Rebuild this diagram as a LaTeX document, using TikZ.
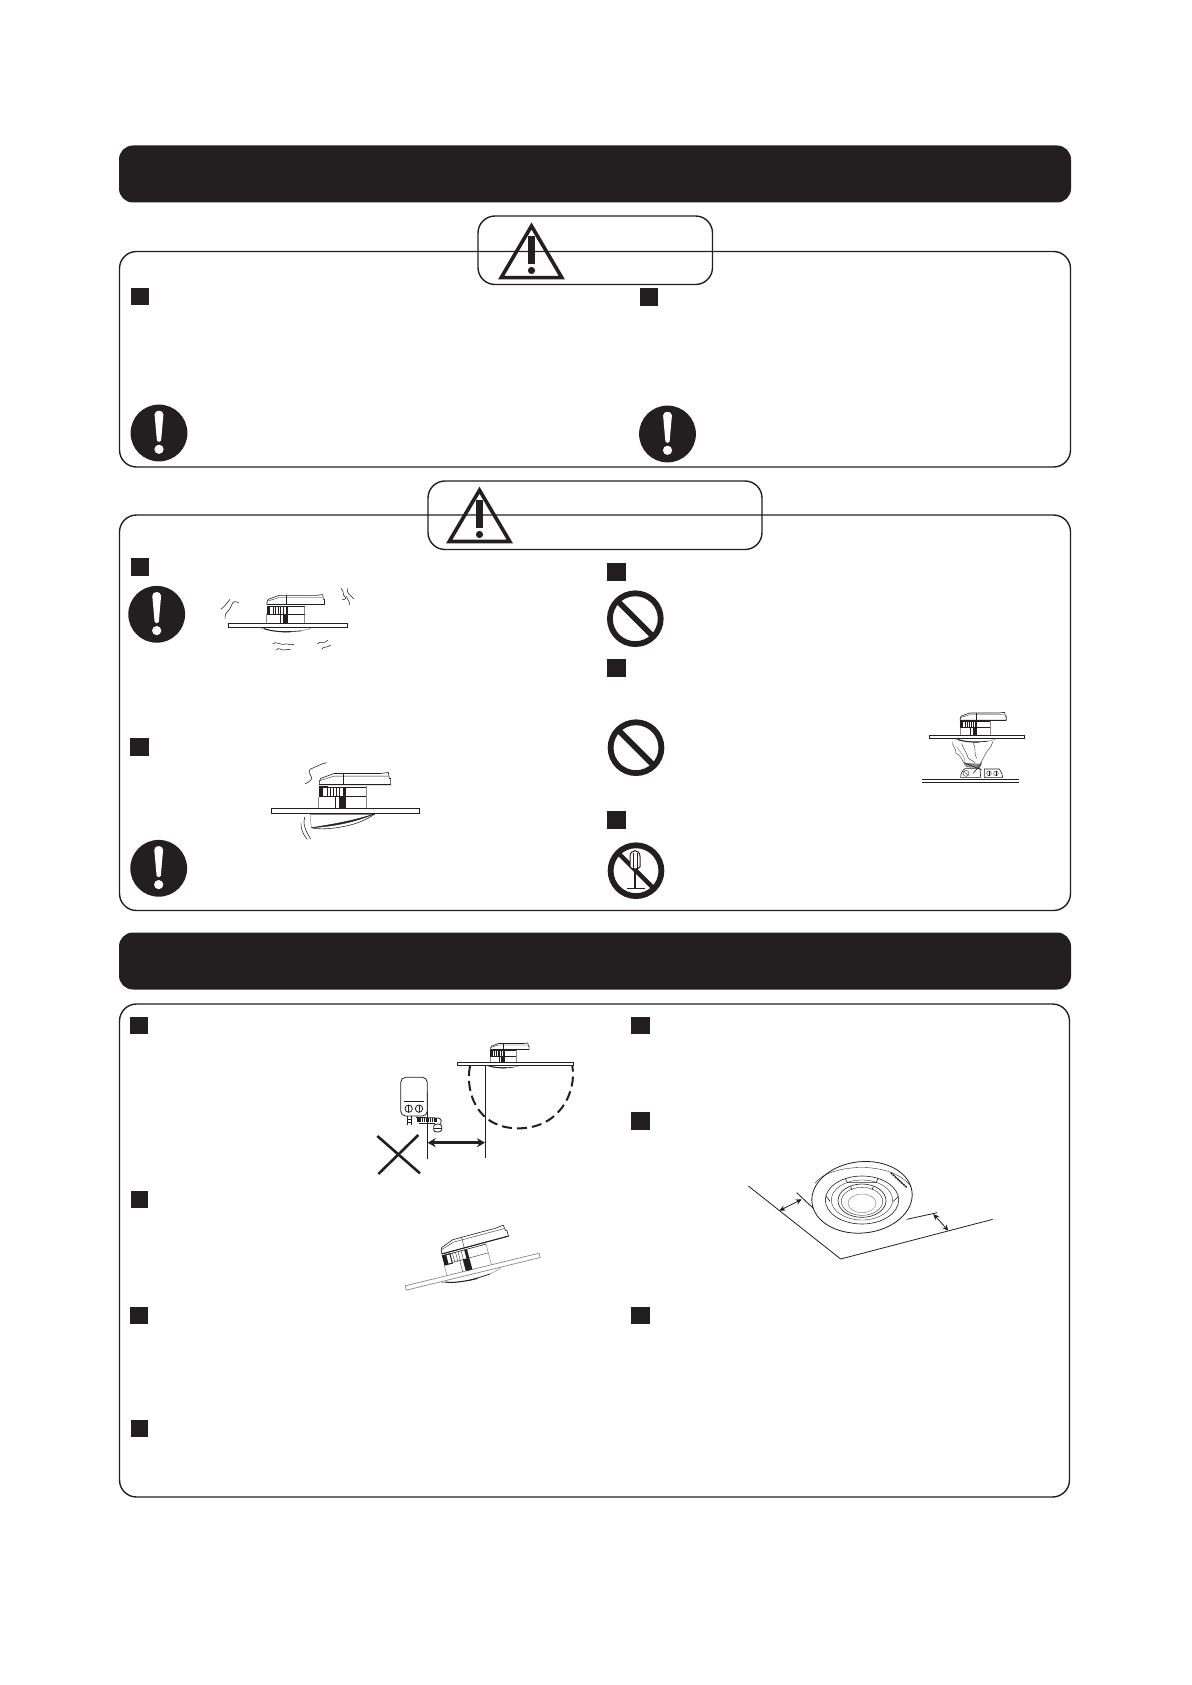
\documentclass[tikz,border=0pt]{standalone}
\usetikzlibrary{arrows.meta}
\definecolor{ink}{HTML}{231F20}
\definecolor{pale}{HTML}{8A8889}
\tikzset{
  outline/.style={draw=ink,line width=1.4pt,rounded corners=17pt},
  banner/.style={fill=ink,rounded corners=14pt},
  sq/.style={fill=ink},
  thinl/.style={draw=ink,line width=.55pt},
  medl/.style={draw=ink,line width=.8pt},
  bodyfat/.style={draw=ink,line width=1pt},
  bodymed/.style={draw=ink,line width=.6pt},
  bodythin/.style={draw=ink,line width=.35pt},
  greyl/.style={draw=pale,line width=.5pt},
  platel/.style={draw=ink,line width=.8pt,fill=white},
  dim/.style={draw=ink,line width=.8pt,{Stealth[length=6pt,width=5.5pt]}-{Stealth[length=6pt,width=5.5pt]}},
  exclcircle/.pic={
    \fill[ink] (0,0) circle (28.4);
    \fill[white] (-4.4,-18.5) .. controls (-4.4,-23.5) and (4.4,-23.5) .. (4.4,-18.5) -- (2.1,7.5) .. controls (1.6,9.5) and (-1.6,9.5) .. (-2.1,7.5) -- cycle;
    \fill[white] (0,16.3) circle (4.6);
  },
  nocircle/.pic={
    \draw[ink,line width=5.8pt] (0,0) circle (25.4);
    \draw[ink,line width=5.8pt] (-18,-18) -- (18,18);
  },
  nodis/.pic={
    \draw[ink,line width=5.8pt] (0,0) circle (25.4);
    \draw[ink,line width=4.5pt] (-18,-18) -- (18,18);
    \draw[ink,line width=1.2pt] (-1,-2) -- (-1,17.5);
    \draw[ink,line width=1.2pt] (-9,18) -- (9,18);
    \draw[ink,line width=1pt,fill=white] (-6,-4) -- (-6,-14) .. controls (-6,-22) and (4,-22) .. (4,-14) -- (4,-4) .. controls (3,-1) and (-5,-1) .. (-6,-4) -- cycle;
    \draw[ink,line width=.7pt] (-3,-18) -- (-3,-3) (1,-18) -- (1,-3);
  },
  tri/.style={draw=ink,line width=3.6pt,miter limit=20,line join=miter},
  sensorbody/.pic={
    \draw[greyl] (-80,-42) -- (-80,-7) (62,-74) -- (62,-7);
    \draw[bodymed,fill=white] (-78,-87) -- (-74,-97) -- (-34,-112) -- (104,-112) -- (129,-115) -- (132,-97) -- (136,-97) -- (136,-78) -- (-78,-78) -- cycle;
    \draw[bodythin] (-78,-90) -- (-34,-104) -- (129,-104);
    \draw[bodythin] (-6,-112) -- (-6,-78);
    \draw[bodyfat] (-78,-78) -- (136,-78);
    \draw[bodymed] (-78,-72) -- (62,-72);
    \fill[ink] (-78,-72) rectangle (-66,-42);
    \draw[bodyfat] (-78,-72) rectangle (-54,-42);
    \draw[bodythin] (-46,-72) -- (-46,-42) (-36,-72) -- (-36,-42) (-28,-72) -- (-28,-42) (-18,-72) -- (-18,-42) (-54,-44) -- (62,-44);
    \draw[bodythin] (-30,-42) -- (-30,-7);
    \fill[ink] (-20,-44) rectangle (1,-7);
    \fill[ink] (-8,-72) rectangle (1,-44);
  },
  sensortop/.pic={
    \pic {sensorbody};
    \draw[platel] (-222,-7) rectangle (222,8);
  },
  sensordome/.pic={
    \draw[greyl] (-102,9) .. controls (-60,26) and (40,30) .. (88,9);
    \draw[bodyfat] (-90,11) .. controls (-70,20) and (-30,24) .. (10,24);
    \draw[bodymed] (-20,24) -- (50,20);
  },
  tiltplate/.pic={
    \draw[greyl,fill=white,line width=.7pt] (-214,-7) rectangle (214,7);
  }
}
\begin{document}
\begin{tikzpicture}[x=1pt,y=-1pt]
\useasboundingbox (0,0) rectangle (1191,1685);
\fill[white] (0,0) rectangle (1191,1685);

% ---- banners
\fill[banner] (119,145.5) rectangle (1071,202.5);
\fill[banner] (119,932.5) rectangle (1071,989.5);

% ---- panels
\draw[outline] (119.5,251.5) rectangle (1070.5,467);
\draw[outline] (119.5,515) rectangle (1070.5,910.5);
\draw[outline] (119.5,1004) rectangle (1069.5,1497);

% ---- caution boxes
\draw[outline] (478,216) rectangle (712.5,284.5);
\draw[outline] (428,481) rectangle (762,549.5);

% ---- triangles
\draw[tri] (531.5,226) -- (561.8,277.6) -- (501.2,277.6) -- cycle;
\fill[ink] (528.3,236) rectangle (534.7,264);
\fill[ink] (531.5,270.5) circle (3.6);
\draw[tri] (479.5,490.2) -- (509.8,541.5) -- (449.2,541.5) -- cycle;
\fill[ink] (476.3,500) rectangle (482.7,528);
\fill[ink] (479.5,534.5) circle (3.6);

% ---- squares
\fill[sq] (131,288.5) rectangle (148.5,305.5);
\fill[sq] (640,288.5) rectangle (658,306);
\fill[sq] (131,558) rectangle (149,576);
\fill[sq] (130,738) rectangle (149,756);
\fill[sq] (607,563) rectangle (626,581);
\fill[sq] (607,659) rectangle (626,677);
\fill[sq] (607,811) rectangle (626,829);
\fill[sq] (130,1017) rectangle (148,1034);
\fill[sq] (131,1191) rectangle (148,1208);
\fill[sq] (130,1307) rectangle (148,1324);
\fill[sq] (131,1420) rectangle (148,1437);
\fill[sq] (631,1017) rectangle (650,1034);
\fill[sq] (631,1112) rectangle (650,1130);
\fill[sq] (631,1307) rectangle (650,1324);

% ---- round signs
\pic at (159,433) {exclcircle};
\pic at (667.5,434) {exclcircle};
\pic at (156.7,614.3) {exclcircle};
\pic at (158.7,868.3) {exclcircle};
\pic at (635.3,618.7) {nocircle};
\pic at (636,747.7) {nocircle};
\pic at (636,870.7) {nodis};

% ---- figure: vibrating ceiling (zoom frame 110,480)
\begin{scope}[shift={(110,480)},scale=1/3]
  \pic[transform shape,scale=.806] at (534,436.5) {sensortop};
  \pic[transform shape,scale=.806] at (534,436.5) {sensordome};
  \draw[thinl] (332,388) .. controls (342,382) and (350,370) .. (360,358);
  \draw[thinl] (345,415) .. controls (342,395) and (360,395) .. (365,375) .. controls (368,362) and (378,364) .. (386,368);
  \draw[thinl] (693,325) .. controls (705,335) and (695,345) .. (705,350) .. controls (712,355) and (700,362) .. (697,358);
  \draw[thinl] (712,325) .. controls (708,340) and (722,345) .. (732,357);
  \draw[thinl] (718,375) .. controls (722,362) and (708,358) .. (710,348);
  \draw[thinl] (488,491) .. controls (500,483) and (510,495) .. (520,493) .. controls (532,488) and (542,498) .. (552,493);
  \draw[thinl] (498,510) .. controls (508,500) and (515,512) .. (522,510) .. controls (530,505) and (535,512) .. (542,508);
  \draw[thinl] (622,492) .. controls (632,480) and (640,495) .. (654,480);
  \draw[thinl] (635,508) .. controls (640,498) and (650,505) .. (662,495);

  % ---- figure: falling lid
  \pic[transform shape] at (706,992.5) {sensortop};
  \draw[greyl] (600,1003) -- (795,1003);
  \draw[greyl] (600,1003) -- (604,1042);
  \draw[ink,fill=ink,line width=.4pt] (604,1043) .. controls (670,1040) and (740,1025) .. (795,1001) .. controls (740,1020) and (670,1033) .. (604,1043) -- cycle;
  \draw[thinl] (604,1043) .. controls (630,1052) and (740,1045) .. (795,1001);
  \draw[thinl] (650,848) .. controls (630,852) and (615,862) .. (600,868) .. controls (590,878) and (610,890) .. (604,898) .. controls (600,905) and (592,908) .. (585,912);
  \draw[thinl] (584,1011) .. controls (578,1030) and (585,1050) .. (602,1077);
  \draw[thinl] (573,1030) .. controls (572,1048) and (580,1065) .. (592,1078);
\end{scope}

% ---- figure: smoke (zoom frame 590,480)
\begin{scope}[shift={(590,480)},scale=1/3]
  \draw[medl] (996,898) -- (1287,898);
  \draw[medl] (996,908) -- (1287,908);
  \draw[bodythin] (1088,785) .. controls (1085,800) and (1100,805) .. (1098,820) .. controls (1110,825) and (1115,835) .. (1125,855);
  \draw[bodythin] (1115,790) .. controls (1118,805) and (1130,815) .. (1135,835) .. controls (1140,842) and (1150,840) .. (1155,848);
  \draw[bodythin] (1150,790) .. controls (1160,805) and (1150,820) .. (1160,835);
  \draw[bodythin] (1208,785) .. controls (1205,805) and (1190,810) .. (1185,825) .. controls (1180,835) and (1175,842) .. (1170,852);
  \draw[greyl] (1100,800) .. controls (1110,815) and (1125,830) .. (1125,845);
  \draw[bodymed,fill=white] (1112,892) .. controls (1112,880) and (1118,870) .. (1125,866) -- (1140,866) -- (1170,866) -- (1172,892) -- cycle;
  \draw[bodymed,fill=white] (1183,892) -- (1183,867) -- (1228,867) .. controls (1234,875) and (1238,885) .. (1238,892) -- cycle;
  \draw[bodythin] (1128,880) circle (9);
  \draw[bodythin] (1122,874) -- (1134,886);
  \draw[bodythin] (1197,880) circle (7) (1218,880) circle (7);
  \draw[bodythin] (1197,873) -- (1197,887) (1218,873) -- (1218,887);
  \fill[pale] (1122,848) -- (1175,852) -- (1170,864) -- (1128,862) -- cycle;
  \draw[bodymed] (1122,848) -- (1175,870) (1175,848) -- (1150,880);
  \pic[transform shape,scale=.644] at (1161,771) {sensortop};
  \pic[transform shape,scale=.644] at (1161,771) {sensordome};
\end{scope}

% ---- figure: heater and sensor (zoom frame 340,1020)
\begin{scope}[shift={(340,1020)},scale=1/3]
  \pic[transform shape,scale=.54] at (494,131) {sensorbody};
  \pic[transform shape,scale=.54] at (494,131) {sensordome};
  \draw[platel] (352,126) rectangle (700,136);
  \draw[ink,line width=2pt,dash pattern=on 10pt off 5pt]
    (390,138) .. controls (375,215) and (410,325) .. (535,325) .. controls (660,325) and (710,215) .. (697,138);
  \draw[medl] (436,138) -- (436,415);
  \draw[medl] (262,215) -- (262,418);
  \draw[ink,line width=2.4pt,{Stealth[length=8pt,width=9pt]}-{Stealth[length=8pt,width=9pt]}] (263,368) -- (435,368);
  \draw[ink,line width=2.6pt] (112,348) -- (240,460);
  \draw[ink,line width=2.6pt] (235,345) -- (115,462);
  \draw[medl,fill=white,rounded corners=5pt] (182,172) rectangle (262,288);
  \draw[medl] (192,245) -- (252,245);
  \draw[medl] (206,266) circle (11) (237,266) circle (11);
  \draw[ink,line width=1pt] (206,256) -- (206,276) (237,256) -- (237,276);
  \draw[medl] (202,288) -- (202,315) (215,288) -- (215,315) (202,297) -- (215,297) (202,306) -- (215,306);
  \draw[ink,line width=3.6pt,dash pattern=on 1.4pt off .7pt] (232,300) -- (290,300);
  \draw[medl] (228,292) -- (295,294) .. controls (305,296) and (305,305) .. (302,312);
  \draw[medl] (236,309) -- (285,309);
  \draw[medl,fill=white] (281,318) .. controls (281,310) and (305,310) .. (305,318) -- (305,330) .. controls (305,338) and (281,338) .. (281,330) -- cycle;
  \draw[thinl] (281,324) -- (305,324);

  % ---- tilted figure
  \pic[transform shape,scale=.966,rotate=13.7] at (398,755) {tiltplate};
  \pic[transform shape,scale=.966,rotate=13.7] at (398,755) {sensordome};
  \pic[transform shape,scale=.966,rotate=15] at (398,755) {sensorbody};
\end{scope}

% ---- perspective figure (zoom frame 730,1140)
\begin{scope}[shift={(730,1140)},scale=1/3]
  \draw[medl] (55,138) -- (332,357) -- (788,238);
  \draw[medl] (200,158) -- (250,205);
  \draw[medl] (530,238) -- (622,218);
  \draw[dim] (148,212) -- (215,178);
  \draw[dim] (610,222) -- (655,272);
  \draw[medl,rotate around={6:(396,172)}] (396,172) ellipse [x radius=151,y radius=107];
  \draw[bodythin] (255,130) .. controls (290,75) and (480,55) .. (543,140);
  \draw[bodymed] (396,180) ellipse [x radius=110,y radius=72];
  \draw[bodythin] (396,180) ellipse [x radius=92,y radius=60];
  \draw[bodymed] (396,182) ellipse [x radius=72,y radius=50];
  \draw[bodythin] (396,184) ellipse [x radius=62,y radius=42];
  \draw[greyl] (396,190) ellipse [x radius=42,y radius=28];
  \draw[bodymed] (346,116) -- (352,128) -- (438,128) -- (444,116);
  \draw[bodymed] (288,168) -- (300,184) (506,168) -- (490,184) (362,140) -- (366,150) (430,140) -- (426,150);
  \draw[ink,line width=1.4pt,dash pattern=on 2.2pt off .6pt] (482,98) -- (530,142);
\end{scope}
\end{tikzpicture}
\end{document}
